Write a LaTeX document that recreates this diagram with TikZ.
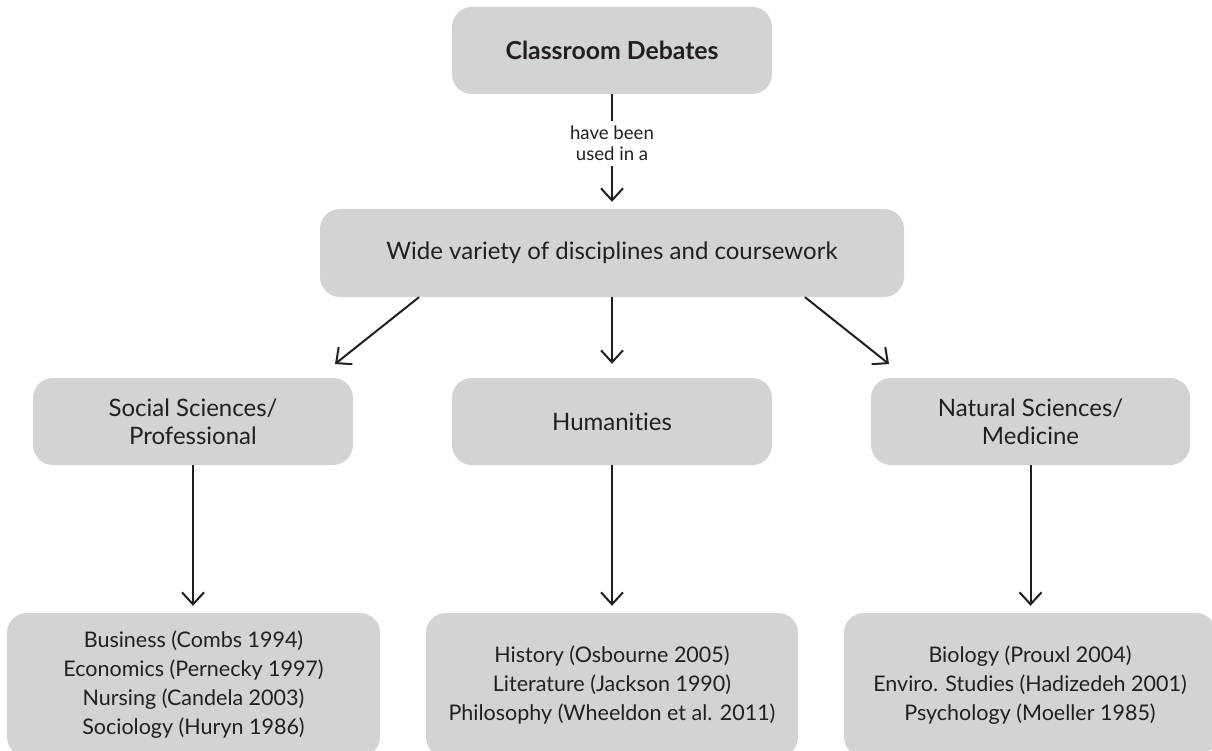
\documentclass[tikz,border=0pt]{standalone}
\usepackage{fontspec}
\setmainfont{Lato}[Ligatures=NoCommon]
\usetikzlibrary{arrows.meta,calc}
\definecolor{boxgray}{HTML}{D1D3D4}
\definecolor{ink}{HTML}{231F20}
\tikzset{
  gbox/.style={rectangle, rounded corners=20pt, fill=boxgray, draw=none, text=ink, align=center, inner sep=0pt},
  toptext/.style={font=\fontsize{24.8}{28}\selectfont\bfseries},
  midtext/.style={font=\fontsize{24}{28}\selectfont},
  lowtext/.style={font=\fontsize{21.5}{29}\selectfont},
  lbl/.style={font=\fontsize{18.6}{21}\selectfont, text=ink, fill=white, align=center, inner xsep=2pt, inner ysep=5pt},
  arr/.style={draw=ink, line width=2pt, -{Straight Barb[length=12pt,width=22pt,line width=2pt]}},
  ln/.style={draw=ink, line width=2pt}
}
\begin{document}
\begin{tikzpicture}[x=1pt,y=-1pt]
\useasboundingbox (0,0) rectangle (1212,751);
\clip (0,0) rectangle (1212,751);
\node[gbox, toptext, minimum width=320pt, minimum height=87pt] (top) at (612,50.5) {Classroom Debates};
\node[gbox, midtext, minimum width=584pt, minimum height=88pt] (wide) at (612,253) {Wide variety of disciplines and coursework};
\node[gbox, midtext, minimum width=320pt, minimum height=87pt] (soc) at (193,421.5) {Social Sciences/\\Professional};
\node[gbox, midtext, minimum width=320pt, minimum height=87pt] (hum) at (612,421.5) {Humanities};
\node[gbox, midtext, minimum width=319pt, minimum height=87pt] (nat) at (1030.5,421.5) {Natural Sciences/\\Medicine};
\node[gbox, lowtext, minimum width=373pt, minimum height=144pt] (bsoc) at (193.5,685) {Business (Combs 1994)\\Economics (Pernecky 1997)\\Nursing (Candela 2003)\\Sociology (Huryn 1986)};
\node[gbox, lowtext, minimum width=372pt, minimum height=144pt] (bhum) at (612,685) {History (Osbourne 2005)\\Literature (Jackson 1990)\\Philosophy (Wheeldon et al. 2011)};
\node[gbox, lowtext, minimum width=372pt, minimum height=144pt] (bnat) at (1030,685) {Biology (Prouxl 2004)\\Enviro. Studies (Hadizedeh 2001)\\Psychology (Moeller 1985)};
% connectors
\draw[arr, shorten >=7pt] (top.south) -- node[lbl, pos=0.43] {have been\\used in a} (wide.north);
\coordinate (wl) at ($(wide.south)+(-193,0)$);
\coordinate (wr) at ($(wide.south)+(193,0)$);
\coordinate (tl) at (335,364);
\coordinate (tr) at (889,364);
\draw[arr] (wl) -- (tl);
\draw[arr] (wr) -- (tr);
\draw[arr, shorten >=14pt] (wide.south) -- (hum.north);
\draw[arr, shorten >=7pt] (soc.south) -- (soc.south |- bsoc.north);
\draw[arr, shorten >=7pt] (hum.south) -- (bhum.north);
\draw[arr, shorten >=7pt] (nat.south) -- (nat.south |- bnat.north);
\end{tikzpicture}
\end{document}
